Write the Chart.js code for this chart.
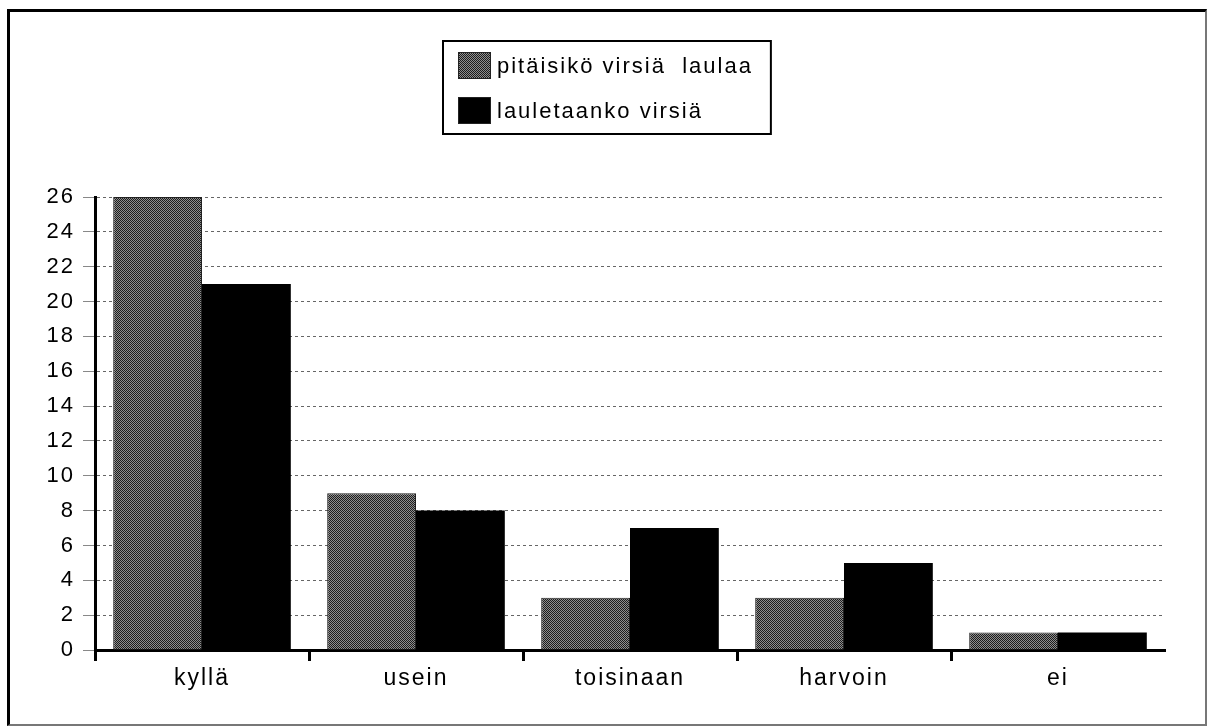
<!DOCTYPE html>
<html>
<head>
<meta charset="utf-8">
<script src="https://cdn.jsdelivr.net/npm/chart.js@4/dist/chart.umd.min.js"></script>
<style>
  body { margin: 0; background: #fff; }
  #wrap { position: relative; width: 1207px; height: 726px; }
  #frame {
    position: absolute; left: 7px; top: 9px; width: 1200px; height: 717px;
    box-sizing: border-box;
    border-left: 3px solid #000; border-top: 3px solid #000;
    border-right: 2px solid #777; border-bottom: 2px solid #777;
    pointer-events: none;
  }
</style>
</head>
<body>
<div id="wrap">
  <canvas id="chart" width="1207" height="726"></canvas>
  <div id="frame"></div>
</div>
<script>
// data
var categories = ["kyllä", "usein", "toisinaan", "harvoin", "ei"];
var seriesNames = ["pitäisikö virsiä  laulaa", "lauletaanko virsiä"];
var pitaisiko = [26, 9, 3, 3, 1];
var lauletaanko = [21, 8, 7, 5, 1];
var yTicks = [0, 2, 4, 6, 8, 10, 12, 14, 16, 18, 20, 22, 24, 26];

// dithered grey like the old printout
function ditherPattern() {
  var c = document.createElement('canvas');
  c.width = 4; c.height = 4;
  var g = c.getContext('2d');
  var m = [[0, 8, 2, 10], [12, 4, 14, 6], [3, 11, 1, 9], [15, 7, 13, 5]];
  for (var y = 0; y < 4; y++) {
    for (var x = 0; x < 4; x++) {
      g.fillStyle = m[y][x] < 8 ? '#1c1c1c' : '#8e8e8e';
      g.fillRect(x, y, 1, 1);
    }
  }
  return g.createPattern(c, 'repeat');
}
var grey = ditherPattern();

var FONT = "'Liberation Sans', Arial, Helvetica, sans-serif";

var boxLegend = {
  id: 'boxLegend',
  beforeDraw: function(chart) {
    chart.ctx.letterSpacing = '2px';
  },
  afterDraw: function(chart) {
    var ctx = chart.ctx;
    var ds = chart.data.datasets;
    ctx.save();
    ctx.letterSpacing = '2px';
    ctx.font = '22px ' + FONT;
    var textW = 0;
    ds.forEach(function(d) { textW = Math.max(textW, ctx.measureText(d.label).width); });
    var sw = 33, sh = 27, padL = 15, gap = 6, padR = 18;
    var w = padL + sw + gap + textW + padR;
    var x0 = Math.round(chart.width / 2 - w / 2) + 3;
    var y0 = 41, h = 93;
    ctx.lineWidth = 2;
    ctx.strokeStyle = '#000';
    ctx.strokeRect(x0, y0, w, h);
    ctx.textBaseline = 'middle';
    ctx.textAlign = 'left';
    ds.forEach(function(d, i) {
      var sy = y0 + 11 + i * 45;
      ctx.fillStyle = d.backgroundColor;
      ctx.fillRect(x0 + padL, sy, sw, sh);
      ctx.lineWidth = 1;
      ctx.strokeStyle = '#222';
      ctx.strokeRect(x0 + padL + 0.5, sy + 0.5, sw - 1, sh - 1);
      ctx.fillStyle = '#000';
      ctx.fillText(d.label, x0 + padL + sw + gap, sy + sh / 2 + 1);
    });
    ctx.restore();
  }
};

new Chart(document.getElementById('chart'), {
  type: 'bar',
  data: {
    labels: categories,
    datasets: [
      { label: seriesNames[0], data: pitaisiko, backgroundColor: grey, borderColor: '#222', borderWidth: 1 },
      { label: seriesNames[1], data: lauletaanko, backgroundColor: '#000', borderColor: '#000', borderWidth: 0 }
    ]
  },
  options: {
    responsive: false,
    devicePixelRatio: 1,
    animation: false,
    events: [],
    layout: { padding: { top: 197, right: 42, left: 0, bottom: 0 } },
    datasets: { bar: { categoryPercentage: 0.83, barPercentage: 1.0 } },
    plugins: { legend: { display: false }, tooltip: { enabled: false } },
    scales: {
      x: {
        offset: true,
        grid: {
          drawOnChartArea: false,
          drawTicks: true,
          tickLength: 11,
          tickWidth: 3,
          tickColor: function(c) { return c.type === 'tick' ? '#000' : 'rgba(0,0,0,0)'; }
        },
        border: { color: '#000', width: 3 },
        ticks: { color: '#000', padding: 4, font: { family: FONT, size: 23 } },
        afterFit: function(s) { s.height = 76; }
      },
      y: {
        min: 0,
        max: 26,
        afterBuildTicks: function(s) { s.ticks = yTicks.map(function(v) { return { value: v }; }); },
        grid: {
          color: '#666',
          lineWidth: 1,
          tickLength: 12,
          tickColor: '#888',
          tickWidth: 1,
          tickBorderDash: []
        },
        border: { color: '#000', width: 3, dash: [3, 3] },
        ticks: { color: '#000', padding: 8, font: { family: FONT, size: 22 } },
        afterFit: function(s) { s.width = 95; }
      }
    }
  },
  plugins: [boxLegend]
});
</script>
</body>
</html>
